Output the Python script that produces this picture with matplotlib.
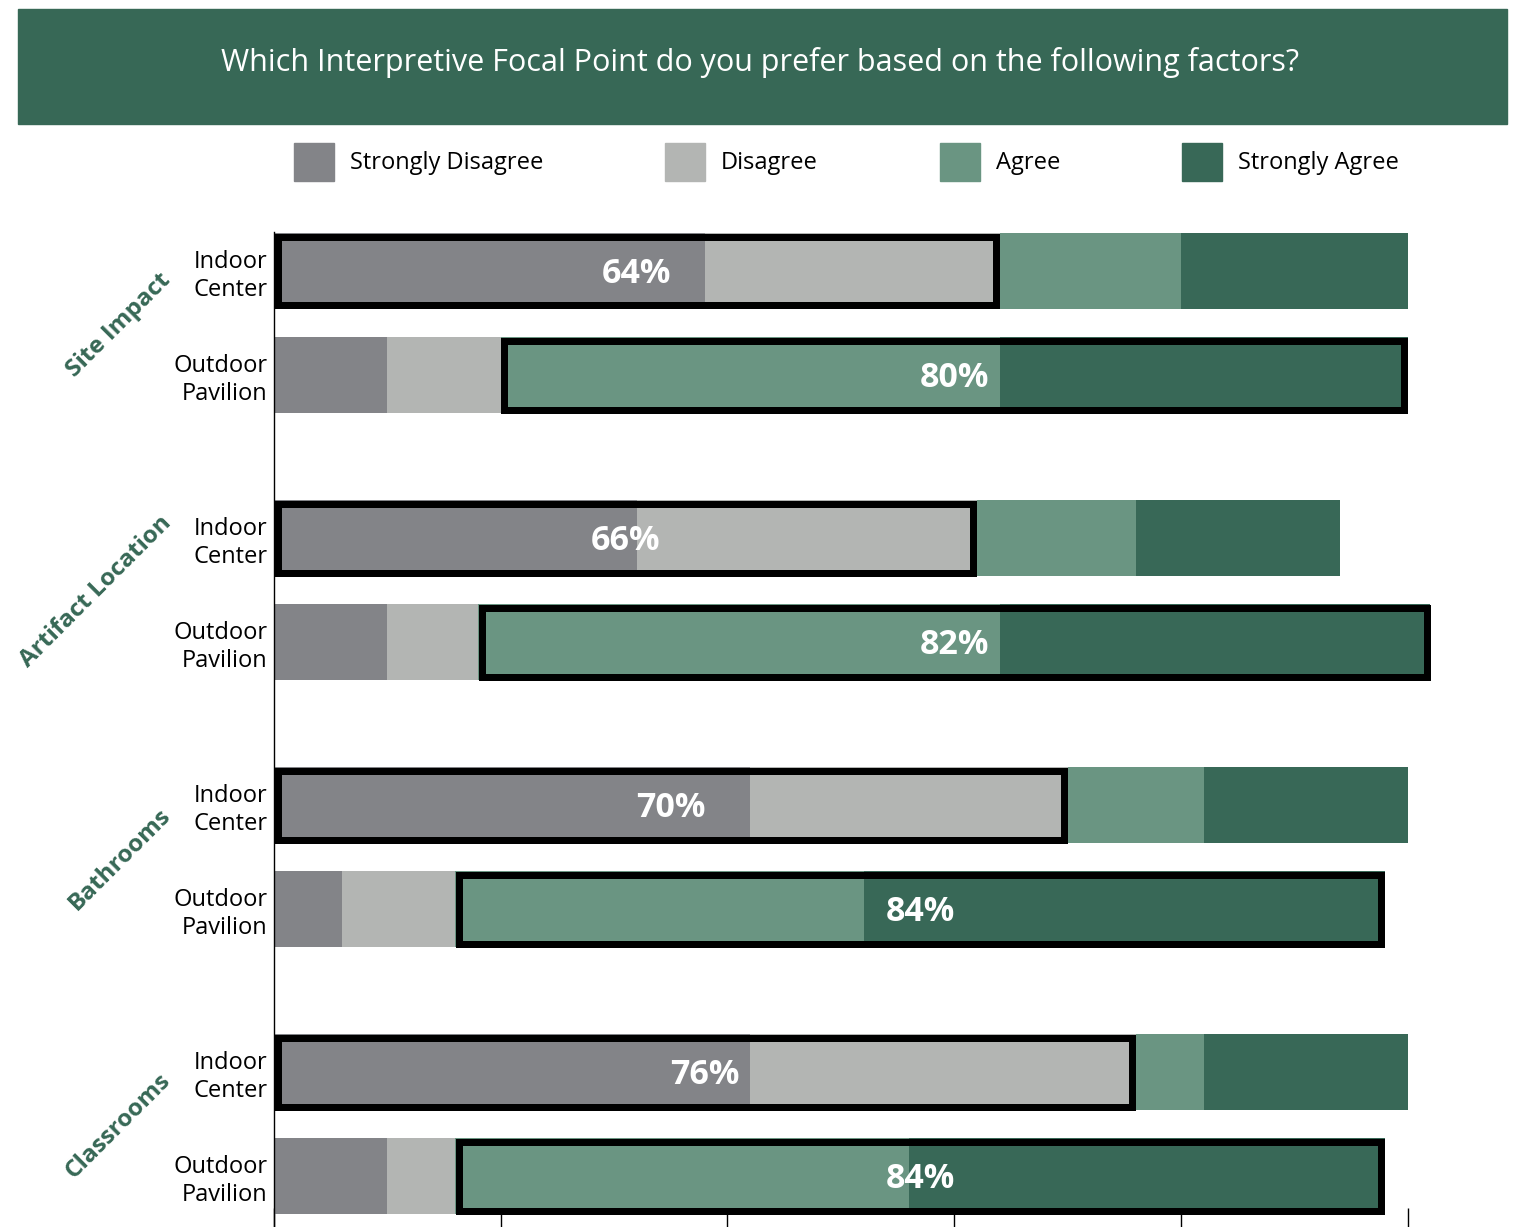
import numpy as np
import matplotlib.pyplot as plt
from matplotlib.patches import Rectangle, Patch

plt.rcParams['font.family'] = ['Open Sans', 'DejaVu Sans']

# survey data (number of responses per row)
factors = ['Site Impact', 'Artifact Location', 'Bathrooms', 'Classrooms']
options = ['Indoor\nCenter', 'Outdoor\nPavilion']
responses = ['Strongly Disagree', 'Disagree', 'Agree', 'Strongly Agree']
colors = ['#838488', '#b3b5b3', '#6a9582', '#386857']

# rows: indoor, outdoor for each factor in order
strongly_disagree = [19, 5, 16, 5, 21, 3, 21, 5]
disagree = [13, 5, 15, 4, 14, 5, 17, 3]
agree = [8, 22, 7, 23, 6, 18, 3, 20]
strongly_agree = [10, 18, 9, 19, 9, 23, 9, 21]

W, H = 1515, 1227
green = '#376856'

fig = plt.figure(figsize=(W / 100, H / 100), dpi=100)

# title band
fig.patches.append(Rectangle((18 / W, 1 - 124 / H), (1507 - 18) / W, 115 / H,
                             transform=fig.transFigure, color=green, zorder=0))
fig.text(760 / W, 1 - 63 / H, 'Which Interpretive Focal Point do you prefer based on the following factors?',
         color='white', fontsize=22, ha='center', va='center')

ax = fig.add_axes([274 / W, 0, 1179 / W, (H - 232) / H])

step = 267 / 104
bar_h = 0.73
ypos = []
for g in range(len(factors)):
    for i in range(len(options)):
        ypos.append(g * step + i)
ypos = np.array(ypos)

data = np.array([strongly_disagree, disagree, agree, strongly_agree], dtype=float)
left = np.zeros(len(ypos))
for k in range(len(responses)):
    ax.barh(ypos, data[k], left=left, height=bar_h, color=colors[k], label=responses[k], zorder=2)
    left += data[k]

ax.set_xlim(0, 52)
ax.set_ylim(9.19, -0.375)

# highlight boxes: disagree side for indoor, agree side for outdoor
lw_px = 7
px_x = 1179 / 52
px_y = 104
dx = lw_px / 2 / px_x
dy = lw_px / 2 / px_y
totals = data.sum(axis=0)
for r, y in enumerate(ypos):
    if r % 2 == 0:
        x0 = 0
        w = data[0, r] + data[1, r]
    else:
        x0 = data[0, r] + data[1, r]
        w = data[2, r] + data[3, r]
    ax.add_patch(Rectangle((x0 + dx, y - bar_h / 2 + dy), w - 2 * dx, bar_h - 2 * dy,
                           fill=False, edgecolor='black', linewidth=lw_px * 0.72, zorder=3))
    ax.text(x0 + w / 2, y + 3 / px_y, f'{w / totals[r] * 100:.0f}%', ha='center', va='center',
            color='white', fontsize=24.5, fontweight='bold', zorder=4)

ax.set_yticks(ypos)
ax.set_yticklabels(options * len(factors), fontsize=17)
ax.tick_params(axis='y', length=0, pad=4.5)
ax.set_xticks(range(0, 51, 10))
ax.tick_params(axis='x', direction='in', length=14, width=1, labelbottom=False)
ax.set_axisbelow(True)
for s in ['top', 'right', 'bottom']:
    ax.spines[s].set_visible(False)
ax.spines['left'].set_linewidth(1)

# factor labels
for g, name in enumerate(factors):
    ax.text((176 - 274) / 1179, g * step + 0.5 + 2 / px_y, name, transform=ax.get_yaxis_transform(),
            rotation=45, ha='right', va='center', color=green, fontsize=17.5, fontweight='bold')

handles = [Patch(color=c, label=l) for c, l in zip(colors, responses)]
fig.legend(handles=handles, loc='center', bbox_to_anchor=(846.5 / W, 1 - 162 / H), ncol=4,
           frameon=False, fontsize=17, handlelength=1.69, handleheight=2.1, handletextpad=0.68,
           columnspacing=5.17, borderaxespad=0, borderpad=0)

fig.savefig('out.png', dpi=100)
